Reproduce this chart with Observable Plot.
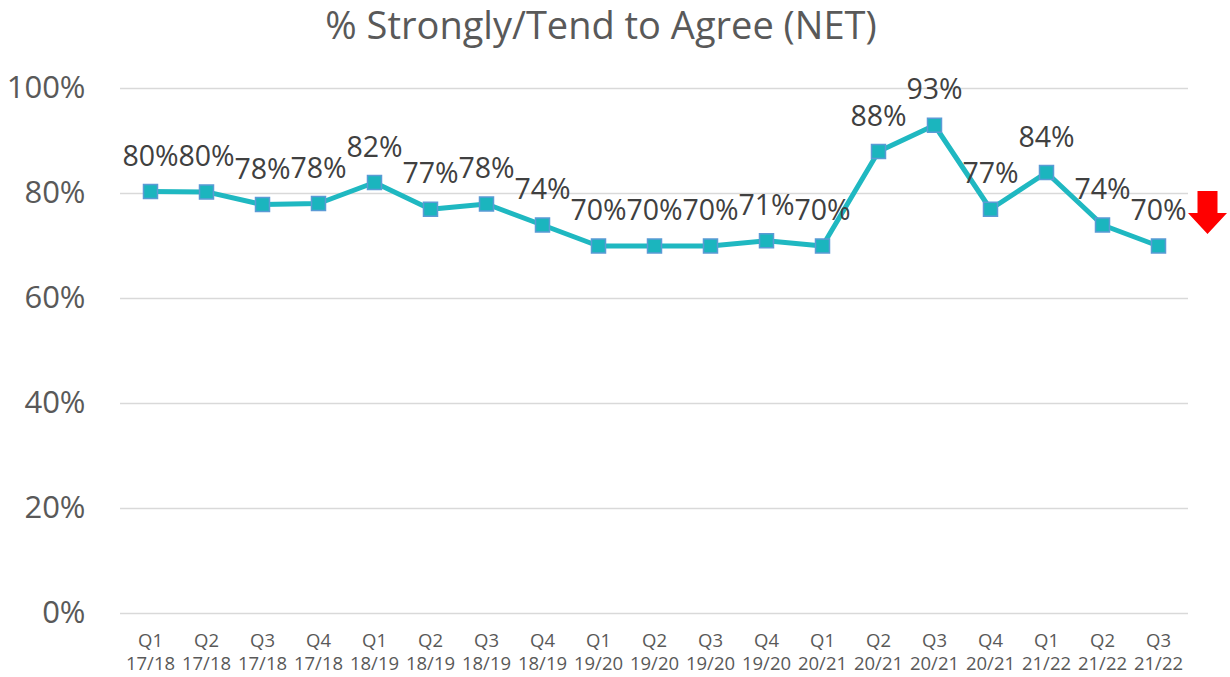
<!DOCTYPE html>
<html>
<head>
<meta charset="utf-8">
<script src="https://cdn.jsdelivr.net/npm/d3@7"></script>
<script src="https://cdn.jsdelivr.net/npm/@observablehq/plot@0.6"></script>
<style>
  html, body { margin: 0; padding: 0; background: #fff; }
  #title { width: 1230px; height: 50px; box-sizing: border-box; padding-right: 28px; text-align: center;
    font-family: "Open Sans", sans-serif; font-size: 38px; line-height: 48px; color: #595959; }
</style>
</head>
<body>
<div id="title">% Strongly/Tend to Agree (NET)</div>
<div id="chart"></div>
<script>
const quarters = ["Q1","Q2","Q3","Q4","Q1","Q2","Q3","Q4","Q1","Q2","Q3","Q4","Q1","Q2","Q3","Q4","Q1","Q2","Q3"];
const years = ["17/18","17/18","17/18","17/18","18/19","18/19","18/19","18/19","19/20","19/20","19/20","19/20","20/21","20/21","20/21","20/21","21/22","21/22","21/22"];
const values = [0.804, 0.803, 0.779, 0.781, 0.821, 0.770, 0.780, 0.740, 0.700, 0.700, 0.700, 0.710, 0.700, 0.880, 0.930, 0.770, 0.840, 0.740, 0.700];
const yTicks = [0, 0.2, 0.4, 0.6, 0.8, 1.0];

const categories = quarters.map((q, i) => q + "\n" + years[i]);
const data = values.map((v, i) => ({cat: categories[i], value: v}));
const last = [data[data.length - 1]];

const downArrow = {
  draw(ctx) {
    ctx.moveTo(-10, -21);
    ctx.lineTo(10, -21);
    ctx.lineTo(10, 1);
    ctx.lineTo(19.5, 1);
    ctx.lineTo(0, 22);
    ctx.lineTo(-19.5, 1);
    ctx.lineTo(-10, 1);
    ctx.closePath();
  }
};

const chart = Plot.plot({
  width: 1230,
  height: 627,
  marginLeft: 120,
  marginRight: 42,
  marginTop: 38,
  marginBottom: 64,
  style: {fontFamily: "Open Sans, sans-serif", color: "#595959", background: "#fff", overflow: "visible"},
  x: {type: "point", domain: categories, padding: 0.5, label: null},
  y: {domain: [0, 1], label: null},
  marks: [
    Plot.gridY(yTicks, {stroke: "#d9d9d9", strokeOpacity: 1, strokeWidth: 1.5}),
    Plot.axisY(yTicks, {tickSize: 0, tickPadding: 35, fontSize: 31, tickFormat: d3.format(".0%"), label: null, fill: "#595959"}),
    Plot.axisX({tickSize: 0, tickPadding: 17, fontSize: 18.5, lineHeight: 1.25, label: null, fill: "#595959"}),
    Plot.line(data, {x: "cat", y: "value", stroke: "#1FB8C1", strokeWidth: 5, strokeLinejoin: "round"}),
    Plot.dot(data, {x: "cat", y: "value", symbol: "square", r: 7.9, fill: "#1BB5BE", stroke: "#5B9BD5", strokeWidth: 1.5}),
    Plot.text(data, {x: "cat", y: "value", text: d => d3.format(".0%")(d.value), dy: -35, fontSize: 28.5, fill: "#404040"}),
    Plot.dot(last, {x: "cat", y: "value", symbol: downArrow, dx: 49, dy: -34, fill: "#FF0000", stroke: "none"})
  ]
});
document.getElementById("chart").appendChild(chart);
</script>
</body>
</html>
